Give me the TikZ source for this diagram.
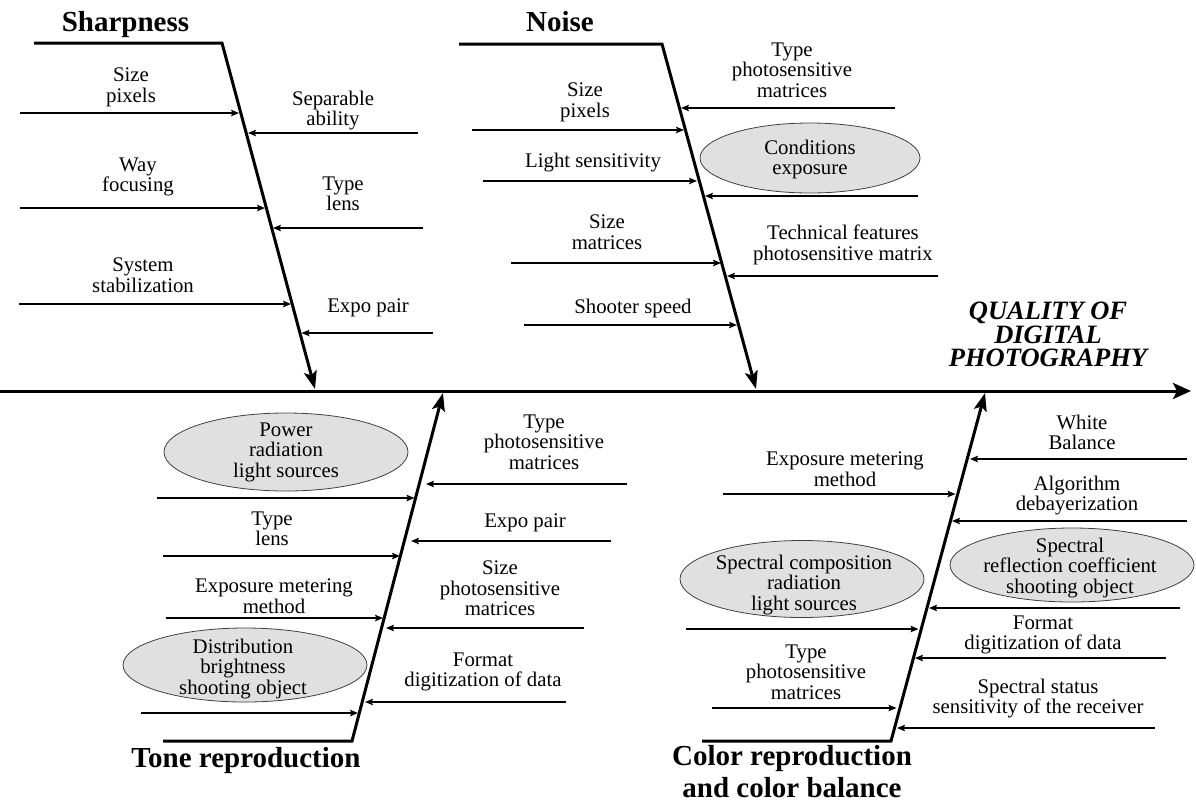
\documentclass[tikz,border=0pt]{standalone}
\usepackage{fontspec}
\setmainfont{Liberation Serif}
\usetikzlibrary{arrows.meta,shapes.geometric}
\newcommand\bodyfnt{\fontsize{20.8}{20.5}\selectfont}
\newcommand\titlefnt{\fontsize{29}{32}\selectfont\bfseries}
\newcommand\mainfnt{\fontsize{26.5}{23.5}\selectfont\bfseries\itshape}
\newcommand\harr[4]{\coordinate (#1a) at (#2,#4); \coordinate (#1b) at (#3,#4); \draw[sarrow] (#1a) -- (#1b);}
\begin{document}
\begin{tikzpicture}[x=1pt,y=-1pt,
  lbl/.style={inner sep=0pt, anchor=north, yshift=14.35pt, align=center, font=\bodyfnt, execute at begin node=\strut},
  ttl/.style={inner sep=0pt, anchor=base, font=\titlefnt},
  oval/.style={ellipse, draw=black!75, line width=0.8pt, fill=black!12, inner sep=0pt},
  boneline/.style={line width=3pt, -{Stealth[length=18pt,width=13pt,inset=4pt]}},
  axisline/.style={line width=3pt, -{Stealth[length=18pt,width=16pt,inset=4pt]}},
  sarrow/.style={line width=1.4pt, -{Stealth[length=8pt,width=6.5pt,inset=1.5pt]}}]
\useasboundingbox (0,0) rectangle (1196,807);

% main axis
\coordinate (ax0) at (0,391);
\coordinate (ax1) at (1191,391);
\draw[axisline] (ax0) -- (ax1);
\node[inner sep=0pt, anchor=south, align=center, font=\mainfnt] (main) at (1048,367) {QUALITY OF\\DIGITAL\\PHOTOGRAPHY};

% bones
\coordinate (s0) at (34,43);  \coordinate (s1) at (222,43);  \coordinate (s2) at (315,389);
\coordinate (n0) at (459,44); \coordinate (n1) at (662,44);  \coordinate (n2) at (756,389);
\coordinate (t0) at (163,741);\coordinate (t1) at (352,741); \coordinate (t2) at (443,393);
\coordinate (c0) at (702,741);\coordinate (c1) at (891,741); \coordinate (c2) at (985,393);
\draw[boneline] (s0) -- (s1) -- (s2);
\draw[boneline] (n0) -- (n1) -- (n2);
\draw[boneline] (t0) -- (t1) -- (t2);
\draw[boneline] (c0) -- (c1) -- (c2);

% titles
\node[ttl] (tS) at (125.5,31) {Sharpness};
\node[ttl] (tN) at (560,31) {Noise};
\node[ttl] (tT) at (246,767) {Tone reproduction};
\node[inner sep=0pt, anchor=north, yshift=22.4pt, align=center, font=\titlefnt, execute at begin node=\strut] (tC) at (792,768) {Color reproduction\\and color balance};

% ellipses
\node[oval, minimum width=220pt, minimum height=70pt] (eC) at (810,158) {};
\node[oval, minimum width=244pt, minimum height=78pt] (eP) at (286,452) {};
\node[oval, minimum width=244pt, minimum height=74pt] (eD) at (245,665) {};
\node[oval, minimum width=244pt, minimum height=77pt] (eS) at (802,579) {};
\node[oval, minimum width=244pt, minimum height=74pt] (eR) at (1072,565) {};

% Sharpness labels
\node[lbl] (a1) at (131,82) {Size\\pixels};
\node[lbl] (a2) at (333,105) {Separable\\ability};
\node[lbl] (a3) at (138,172) {Way\\focusing};
\node[lbl] (a4) at (343,191) {Type\\lens};
\node[lbl] (a5) at (143,272) {System\\stabilization};
\node[lbl] (a6) at (368,312) {Expo pair};
% Noise labels
\node[lbl] (b1) at (792,57) {Type\\photosensitive\\matrices};
\node[lbl] (b2) at (585,97) {Size\\pixels};
\node[lbl] (b3) at (810,154) {Conditions\\exposure};
\node[lbl] (b4) at (593,167) {Light sensitivity};
\node[lbl] (b5) at (607,229) {Size\\matrices};
\node[lbl] (b6) at (843,239) {Technical features\\photosensitive matrix};
\node[lbl] (b7) at (633,313) {Shooter speed};
% Tone labels
\node[lbl] (d1) at (286,437) {Power\\radiation\\light sources};
\node[lbl] (d2) at (272,526) {Type\\lens};
\node[lbl] (d3) at (274,593) {Exposure metering\\method};
\node[lbl] (d4) at (243,653) {Distribution\\brightness\\shooting object};
\node[lbl] (d5) at (544,429) {Type\\photosensitive\\matrices};
\node[lbl] (d6) at (525,527) {Expo pair};
\node[lbl] (d7) at (500,575) {Size\\photosensitive\\matrices};
\node[lbl] (d8) at (483,667) {Format\\digitization of data};
% Color labels
\node[lbl] (f1) at (845,466) {Exposure metering\\method};
\node[lbl] (f2) at (804,569) {Spectral composition\\radiation\\light sources};
\node[lbl] (f3) at (806,659) {Type\\photosensitive\\matrices};
\node[lbl] (f4) at (1082,429) {White\\Balance};
\node[lbl] (f5) at (1077,490) {Algorithm\\debayerization};
\node[lbl] (f6) at (1070,552) {Spectral\\reflection coefficient\\shooting object};
\node[lbl] (f7) at (1043,630) {Format\\digitization of data};
\node[lbl] (f8) at (1038,693) {Spectral status\\sensitivity of the receiver};

% Sharpness arrows
\harr{sl1}{20}{239}{113}
\harr{sl2}{20}{265}{208}
\harr{sl3}{19}{291}{304}
\harr{sr1}{418}{248}{133}
\harr{sr2}{423}{273}{228}
\harr{sr3}{433}{301.5}{333}
% Noise arrows
\harr{nl1}{472}{684}{130}
\harr{nl2}{483}{697}{181}
\harr{nl3}{511}{721}{263}
\harr{nl4}{524}{737}{325}
\harr{nr1}{895}{681}{108}
\harr{nr2}{918}{705}{196}
\harr{nr3}{938}{727}{276}
% Tone arrows
\harr{tl1}{157}{414.5}{498}
\harr{tl2}{163}{400}{556}
\harr{tl3}{166}{383}{618}
\harr{tl4}{141}{358}{713}
\harr{tr1}{627}{426}{484}
\harr{tr2}{611}{411}{541}
\harr{tr3}{584}{386}{628}
\harr{tr4}{566}{365}{702}
% Color arrows
\harr{cl1}{723}{955.5}{494}
\harr{cl2}{686}{918.5}{629}
\harr{cl3}{712}{896.5}{708}
\harr{cr1}{1187}{970}{459}
\harr{cr2}{1187}{952}{521}
\harr{cr3}{1180}{929}{608}
\harr{cr4}{1166}{915}{658}
\harr{cr5}{1155}{897}{728}
\end{tikzpicture}
\end{document}
